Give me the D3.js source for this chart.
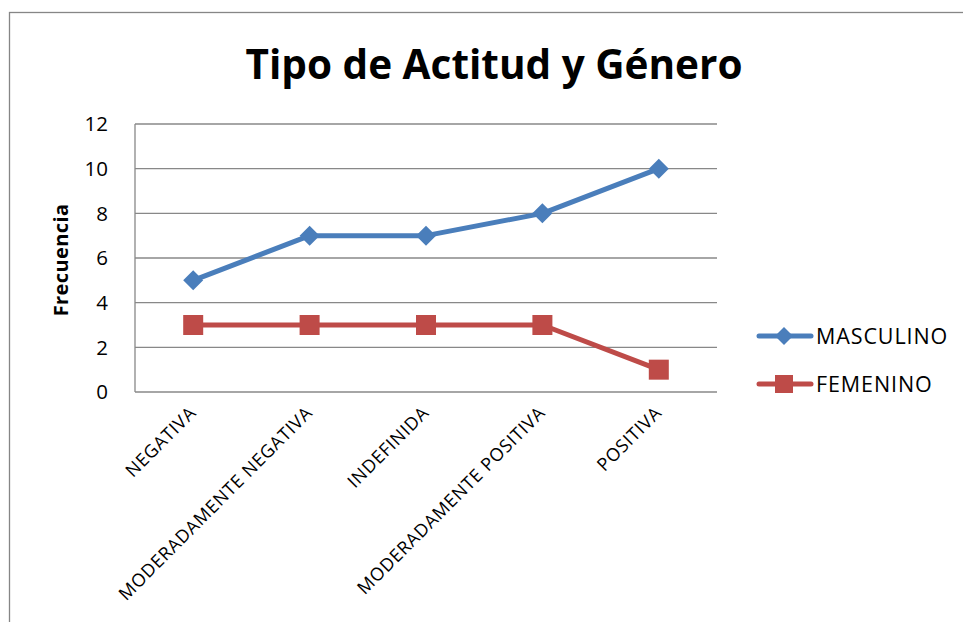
<!DOCTYPE html>
<html lang="es">
<head>
    <meta charset="UTF-8">
    <title>Tipo de Actitud y Género</title>
    <style>
        body { margin: 0; background: #ffffff; }
        svg { display: block; font-family: "Open Sans", "Liberation Sans", sans-serif; }
    </style>
    <script src="https://d3js.org/d3.v7.min.js"></script>
</head>
<body>
    <svg width="963" height="622"></svg>
    <script>
        const categories = ["NEGATIVA", "MODERADAMENTE NEGATIVA", "INDEFINIDA", "MODERADAMENTE POSITIVA", "POSITIVA"];
        const masculino = [5, 7, 7, 8, 10];
        const femenino = [3, 3, 3, 3, 1];
        const yTicks = [0, 2, 4, 6, 8, 10, 12];

        const series = [
            { name: "MASCULINO", values: masculino, color: "#4A7EBB", shape: "diamond" },
            { name: "FEMENINO", values: femenino, color: "#BE4B48", shape: "square" }
        ];

        const svg = d3.select("svg");
        const plot = { left: 135, right: 717, top: 124, bottom: 392 };

        // outer chart border (right and bottom run off the page)
        svg.append("rect")
            .attr("x", 9.5).attr("y", 12.5)
            .attr("width", 980).attr("height", 640)
            .attr("fill", "none")
            .attr("stroke", "#868686")
            .attr("stroke-width", 1.3);

        const x = d3.scaleBand().domain(categories).range([plot.left, plot.right]);
        const y = d3.scaleLinear().domain([0, 12]).range([plot.bottom, plot.top]);

        // gridlines
        svg.append("g").selectAll("line")
            .data(yTicks.filter(d => d > 0))
            .join("line")
            .attr("x1", plot.left).attr("x2", plot.right)
            .attr("y1", d => y(d)).attr("y2", d => y(d))
            .attr("stroke", "#888888").attr("stroke-width", 1.3);

        // axes lines
        svg.append("line")
            .attr("x1", plot.left).attr("x2", plot.left)
            .attr("y1", plot.top).attr("y2", plot.bottom)
            .attr("stroke", "#888888").attr("stroke-width", 1.3);
        svg.append("line")
            .attr("x1", plot.left).attr("x2", plot.right)
            .attr("y1", plot.bottom).attr("y2", plot.bottom)
            .attr("stroke", "#888888").attr("stroke-width", 1.3);

        // y tick labels
        svg.append("g").selectAll("text")
            .data(yTicks)
            .join("text")
            .attr("x", 108).attr("y", d => y(d))
            .attr("dy", "0.36em")
            .attr("text-anchor", "end")
            .attr("font-size", 20.5)
            .attr("fill", "#000")
            .text(d => d);

        // x labels, rotated
        svg.append("g").selectAll("text")
            .data(categories)
            .join("text")
            .attr("transform", d => `translate(${x(d) + x.bandwidth() / 2 + 4},${plot.bottom + 22}) rotate(-45)`)
            .attr("text-anchor", "end")
            .attr("font-size", 18)
            .attr("letter-spacing", 0.7)
            .attr("fill", "#000")
            .text(d => d);

        // title
        svg.append("text")
            .attr("x", 494).attr("y", 79)
            .attr("text-anchor", "middle")
            .attr("font-size", 40.5)
            .attr("font-weight", "bold")
            .attr("fill", "#000")
            .text("Tipo de Actitud y Género");

        // y axis title
        svg.append("text")
            .attr("transform", `translate(68,260) rotate(-90)`)
            .attr("text-anchor", "middle")
            .attr("font-size", 20)
            .attr("font-weight", "bold")
            .attr("letter-spacing", 0.4)
            .attr("fill", "#000")
            .text("Frecuencia");

        const line = d3.line()
            .x((d, i) => x(categories[i]) + x.bandwidth() / 2)
            .y(d => y(d));

        function drawMarker(g, shape, color, cx, cy, r) {
            if (shape === "diamond") {
                g.append("path")
                    .attr("d", `M${cx},${cy - r}L${cx + r},${cy}L${cx},${cy + r}L${cx - r},${cy}Z`)
                    .attr("fill", color);
            } else {
                g.append("rect")
                    .attr("x", cx - r).attr("y", cy - r)
                    .attr("width", 2 * r).attr("height", 2 * r)
                    .attr("fill", color);
            }
        }

        series.forEach(s => {
            const g = svg.append("g");
            g.append("path")
                .attr("d", line(s.values))
                .attr("fill", "none")
                .attr("stroke", s.color)
                .attr("stroke-width", 5)
                .attr("stroke-linejoin", "round");
            s.values.forEach((v, i) => {
                drawMarker(g, s.shape, s.color, x(categories[i]) + x.bandwidth() / 2, y(v), 10);
            });
        });

        // legend
        series.forEach((s, i) => {
            const ly = 336 + i * 48;
            const g = svg.append("g");
            g.append("line")
                .attr("x1", 759).attr("x2", 811)
                .attr("y1", ly).attr("y2", ly)
                .attr("stroke", s.color).attr("stroke-width", 5)
                .attr("stroke-linecap", "round");
            drawMarker(g, s.shape, s.color, 784, ly, 9);
            g.append("text")
                .attr("x", 816).attr("y", ly)
                .attr("dy", "0.36em")
                .attr("font-size", 21.5)
                .attr("letter-spacing", 0.9)
                .attr("fill", "#000")
                .text(s.name);
        });
    </script>
</body>
</html>
